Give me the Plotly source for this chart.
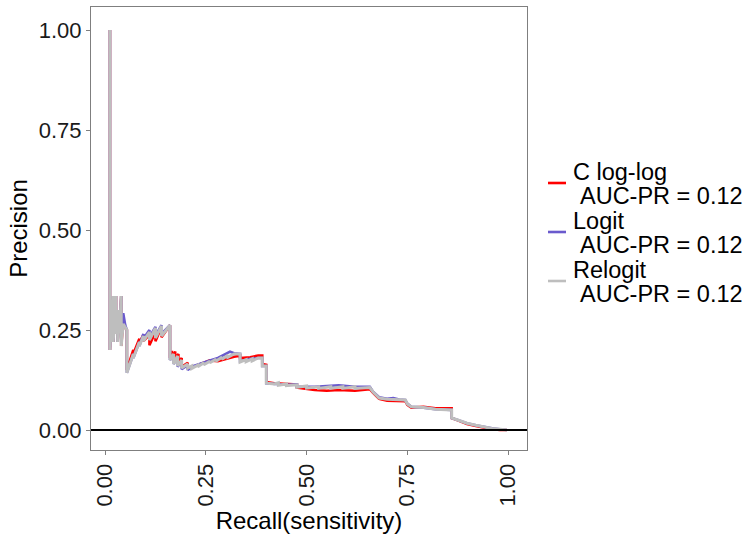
import plotly.graph_objects as go

# ---------------- data ----------------
series_names = ["C log-log", "Logit", "Relogit"]
auc_pr = [0.12, 0.12, 0.12]
series_colors = ["#FF0000", "#6A5ACD", "#BEBEBE"]

cloglog_recall = [0.012, 0.012, 0.016, 0.016, 0.020, 0.020, 0.024, 0.024, 0.027, 0.027, 0.031, 0.031,
                  0.036, 0.036, 0.040, 0.040, 0.045, 0.050, 0.054, 0.054, 0.070, 0.070, 0.085, 0.085,
                  0.095, 0.095, 0.110, 0.110, 0.125, 0.125, 0.140, 0.140, 0.161, 0.161, 0.166, 0.166,
                  0.174, 0.174, 0.182, 0.182, 0.190, 0.190, 0.205, 0.205, 0.220, 0.240, 0.260, 0.280,
                  0.300, 0.310, 0.320, 0.335, 0.335, 0.360, 0.380, 0.390, 0.390, 0.400, 0.400, 0.420,
                  0.450, 0.476, 0.476, 0.520, 0.550, 0.580, 0.620, 0.657, 0.665, 0.675, 0.680, 0.700,
                  0.730, 0.745, 0.750, 0.760, 0.790, 0.820, 0.860, 0.860, 0.875, 0.898, 0.920, 0.940,
                  0.960, 0.980, 0.997]
cloglog_precision = [1.000, 0.200, 0.300, 0.250, 0.335, 0.220, 0.280, 0.240, 0.335, 0.270, 0.300, 0.220,
                     0.300, 0.250, 0.335, 0.210, 0.270, 0.255, 0.250, 0.150, 0.200, 0.190, 0.228, 0.218,
                     0.238, 0.222, 0.238, 0.212, 0.245, 0.222, 0.258, 0.232, 0.262, 0.180, 0.198, 0.180,
                     0.196, 0.178, 0.190, 0.168, 0.180, 0.158, 0.168, 0.156, 0.158, 0.166, 0.174, 0.172,
                     0.178, 0.180, 0.183, 0.186, 0.180, 0.182, 0.186, 0.186, 0.165, 0.163, 0.120, 0.117,
                     0.115, 0.114, 0.106, 0.100, 0.098, 0.100, 0.098, 0.102, 0.093, 0.083, 0.078, 0.073,
                     0.073, 0.072, 0.063, 0.056, 0.058, 0.054, 0.054, 0.030, 0.024, 0.015, 0.010, 0.006,
                     0.002, 0.000, 0.000]

logit_recall = [0.012, 0.012, 0.016, 0.016, 0.020, 0.020, 0.024, 0.024, 0.027, 0.027, 0.031, 0.031,
                0.036, 0.036, 0.040, 0.040, 0.045, 0.050, 0.054, 0.054, 0.070, 0.070, 0.085, 0.085,
                0.095, 0.095, 0.110, 0.110, 0.125, 0.125, 0.140, 0.140, 0.161, 0.161, 0.170, 0.170,
                0.180, 0.180, 0.190, 0.190, 0.205, 0.205, 0.220, 0.240, 0.260, 0.280, 0.300, 0.310,
                0.320, 0.335, 0.335, 0.360, 0.380, 0.390, 0.390, 0.400, 0.400, 0.420, 0.450, 0.476,
                0.476, 0.520, 0.550, 0.580, 0.620, 0.657, 0.665, 0.675, 0.680, 0.700, 0.715, 0.730,
                0.745, 0.750, 0.760, 0.790, 0.820, 0.860, 0.860, 0.875, 0.898, 0.920, 0.940, 0.960,
                0.980, 0.997]
logit_precision = [1.000, 0.200, 0.300, 0.250, 0.335, 0.220, 0.280, 0.240, 0.335, 0.270, 0.300, 0.220,
                   0.300, 0.250, 0.335, 0.220, 0.292, 0.262, 0.250, 0.143, 0.190, 0.180, 0.220, 0.210,
                   0.240, 0.228, 0.250, 0.232, 0.258, 0.236, 0.262, 0.240, 0.262, 0.175, 0.188, 0.165,
                   0.183, 0.158, 0.173, 0.152, 0.162, 0.150, 0.160, 0.168, 0.174, 0.180, 0.192, 0.196,
                   0.192, 0.190, 0.172, 0.178, 0.180, 0.180, 0.160, 0.160, 0.117, 0.115, 0.113, 0.114,
                   0.108, 0.108, 0.110, 0.112, 0.108, 0.108, 0.096, 0.086, 0.082, 0.078, 0.080, 0.076,
                   0.075, 0.066, 0.058, 0.056, 0.052, 0.050, 0.030, 0.025, 0.017, 0.012, 0.008, 0.004,
                   0.002, 0.000]

relogit_recall = [0.012, 0.012, 0.016, 0.016, 0.020, 0.020, 0.024, 0.024, 0.027, 0.027, 0.031, 0.031,
                  0.036, 0.036, 0.040, 0.040, 0.045, 0.050, 0.054, 0.054, 0.070, 0.070, 0.085, 0.085,
                  0.095, 0.095, 0.110, 0.110, 0.125, 0.125, 0.140, 0.140, 0.161, 0.161, 0.170, 0.170,
                  0.180, 0.180, 0.190, 0.190, 0.205, 0.205, 0.215, 0.215, 0.230, 0.230, 0.245, 0.245,
                  0.260, 0.260, 0.275, 0.275, 0.290, 0.290, 0.305, 0.305, 0.320, 0.335, 0.335, 0.350,
                  0.350, 0.365, 0.365, 0.380, 0.390, 0.390, 0.400, 0.400, 0.420, 0.430, 0.430, 0.450,
                  0.450, 0.476, 0.476, 0.500, 0.500, 0.530, 0.530, 0.560, 0.560, 0.590, 0.590, 0.620,
                  0.620, 0.657, 0.665, 0.675, 0.680, 0.700, 0.730, 0.745, 0.750, 0.760, 0.790, 0.820,
                  0.860, 0.860, 0.875, 0.898, 0.920, 0.940, 0.960, 0.980, 0.997]
relogit_precision = [1.000, 0.200, 0.300, 0.250, 0.335, 0.220, 0.280, 0.240, 0.335, 0.270, 0.300, 0.220,
                     0.300, 0.250, 0.335, 0.210, 0.265, 0.255, 0.250, 0.143, 0.190, 0.180, 0.220, 0.210,
                     0.235, 0.222, 0.245, 0.225, 0.255, 0.230, 0.260, 0.235, 0.262, 0.175, 0.190, 0.165,
                     0.185, 0.160, 0.175, 0.155, 0.165, 0.155, 0.160, 0.154, 0.162, 0.158, 0.168, 0.163,
                     0.172, 0.168, 0.177, 0.172, 0.182, 0.177, 0.187, 0.182, 0.190, 0.190, 0.170, 0.176,
                     0.171, 0.178, 0.173, 0.180, 0.180, 0.160, 0.160, 0.117, 0.115, 0.118, 0.112, 0.115,
                     0.111, 0.113, 0.107, 0.110, 0.105, 0.108, 0.104, 0.108, 0.104, 0.108, 0.104, 0.108,
                     0.104, 0.106, 0.095, 0.085, 0.080, 0.077, 0.075, 0.075, 0.065, 0.058, 0.056, 0.052,
                     0.050, 0.030, 0.025, 0.017, 0.012, 0.008, 0.004, 0.002, 0.000]

x_ticks = [0.0, 0.25, 0.5, 0.75, 1.0]
x_tick_labels = ["0.00", "0.25", "0.50", "0.75", "1.00"]
y_ticks = [0.0, 0.25, 0.5, 0.75, 1.0]
y_tick_labels = ["0.00", "0.25", "0.50", "0.75", "1.00"]
baseline_value = 0.0

# ---------------- figure ----------------
FONT = "Liberation Sans, Arial, sans-serif"
W, H = 753, 538
L, R, T, B = 91, 226, 7, 88
PW, PH = W - L - R, H - T - B

fig = go.Figure()
all_x = [cloglog_recall, logit_recall, relogit_recall]
all_y = [cloglog_precision, logit_precision, relogit_precision]
widths = [2.6, 2.6, 3.0]
for name, xs, ys, col, wd in zip(series_names, all_x, all_y, series_colors, widths):
    fig.add_trace(go.Scatter(x=xs, y=ys, mode="lines", name=name,
                             line=dict(color=col, width=wd), showlegend=False))

# horizontal reference line
fig.add_shape(type="line", xref="paper", yref="y", x0=0, x1=1,
              y0=baseline_value, y1=baseline_value, line=dict(color="black", width=2))

def px2paper_x(px):
    return (px - L) / PW

def px2paper_y(py):
    return (H - B - py) / PH

# custom legend
sym_y = [183, 232, 281]
line1_y = [172, 221, 270]
for i, (name, auc, col) in enumerate(zip(series_names, auc_pr, series_colors)):
    fig.add_shape(type="line", xref="paper", yref="paper",
                  x0=px2paper_x(548), x1=px2paper_x(566),
                  y0=px2paper_y(sym_y[i]), y1=px2paper_y(sym_y[i]),
                  line=dict(color=col, width=2.6))
    fig.add_annotation(xref="paper", yref="paper", x=px2paper_x(571), y=px2paper_y(line1_y[i]),
                       xanchor="left", yanchor="middle", showarrow=False, text=name,
                       font=dict(family=FONT, size=23.5, color="black"))
    fig.add_annotation(xref="paper", yref="paper", x=px2paper_x(578), y=px2paper_y(line1_y[i] + 24),
                       xanchor="left", yanchor="middle", showarrow=False,
                       text=f"AUC-PR = {auc:.2f}",
                       font=dict(family=FONT, size=23.5, color="black"))

axis_common = dict(showgrid=False, zeroline=False, showline=True, mirror=True,
                   linecolor="#7f7f7f", linewidth=1, ticks="outside", ticklen=4,
                   tickcolor="#7f7f7f", tickwidth=1,
                   tickfont=dict(family=FONT, size=22, color="#1a1a1a"))

fig.update_xaxes(range=[-0.035, 1.047], tickvals=x_ticks, ticktext=x_tick_labels,
                 tickangle=-90,
                 title=dict(text="Recall(sensitivity)", standoff=4,
                            font=dict(family=FONT, size=24, color="black")),
                 **axis_common)
fig.update_yaxes(range=[-0.05, 1.0575], tickvals=y_ticks, ticktext=y_tick_labels,
                 title=dict(text="Precision", standoff=4,
                            font=dict(family=FONT, size=24, color="black")),
                 **axis_common)

fig.update_layout(width=W, height=H, margin=dict(l=L, r=R, t=T, b=B, autoexpand=False),
                  paper_bgcolor="white", plot_bgcolor="white", showlegend=False)

fig.write_html("out.html")
